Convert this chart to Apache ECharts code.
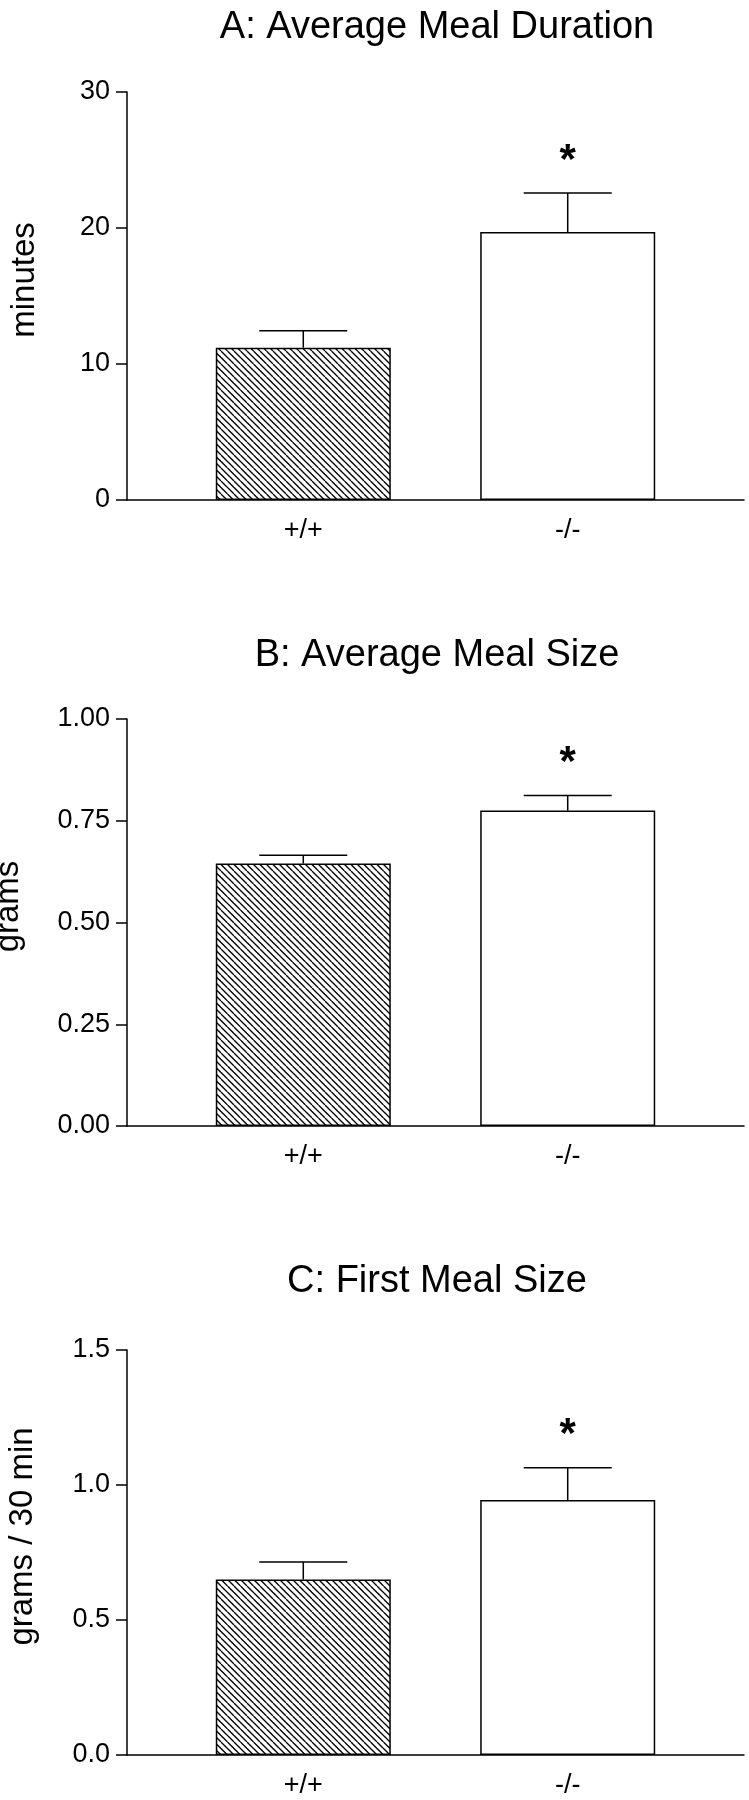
<!DOCTYPE html>
<html>
<head>
<meta charset="utf-8">
<script src="https://cdn.jsdelivr.net/npm/echarts@6/dist/echarts.min.js"></script>
<style>
  html, body { margin: 0; padding: 0; background: #fff; }
  #chart { width: 749px; height: 1800px; }
</style>
</head>
<body>
<div id="chart"></div>
<script>
// genotype groups and where they sit on the x axis
const groups = ['+/+', '-/-']
const slots = ['', '', '+/+', '', '', '-/-', '', '']
const starred = [false, true]

// A: average meal duration (minutes)
const durationMean = [11.2, 19.7]
const durationSem = [1.24, 2.87]
// B: average meal size (grams)
const sizeMean = [0.645, 0.775]
const sizeSem = [0.02, 0.037]
// C: first meal size (grams / 30 min)
const firstMean = [0.65, 0.944]
const firstSem = [0.065, 0.12]

const titles = ['A: Average Meal Duration', 'B: Average Meal Size', 'C: First Meal Size']
const yNames = ['minutes', 'grams', 'grams / 30 min']
const yMax = [30, 1, 1.5]
const yStep = [10, 0.25, 0.5]
const yDecimals = [0, 2, 1]

const font = '"Liberation Sans", Arial, sans-serif'

// hatch pattern for the wild-type bars
const hatch = document.createElement('canvas')
hatch.width = 13
hatch.height = 13
const hctx = hatch.getContext('2d')
hctx.fillStyle = '#fff'
hctx.fillRect(0, 0, 13, 13)
hctx.strokeStyle = '#000'
hctx.lineWidth = 1.3
for (const x0 of [-13, -6.5, 0, 6.5, 13]) {
  hctx.beginPath()
  hctx.moveTo(x0, 0)
  hctx.lineTo(x0 + 13, 13)
  hctx.stroke()
}

const panels = [
  { mean: durationMean, sem: durationSem, top: 92, height: 408, titleTop: 4, nameGap: 86 },
  { mean: sizeMean, sem: sizeSem, top: 719, height: 407, titleTop: 632, nameGap: 102 },
  { mean: firstMean, sem: firstSem, top: 1350, height: 405, titleTop: 1258, nameGap: 88 }
]

const barData = (mean) => slots.map((s) => {
  const g = groups.indexOf(s)
  if (g < 0) return '-'
  return { value: mean[g], itemStyle: { color: g === 0 ? { image: hatch, repeat: 'repeat' } : '#fff' } }
})

const errData = (mean, sem) => groups.map((g, i) => [slots.indexOf(g), mean[i], mean[i] + sem[i], starred[i] ? 1 : 0])

const renderError = (params, api) => {
  const p0 = api.coord([api.value(0), api.value(1)])
  const p1 = api.coord([api.value(0), api.value(2)])
  const half = 44
  const line = { stroke: '#000', lineWidth: 1.5 }
  const children = [
    { type: 'line', shape: { x1: p0[0], y1: p0[1], x2: p1[0], y2: p1[1] }, style: line },
    { type: 'line', shape: { x1: p1[0] - half, y1: p1[1], x2: p1[0] + half, y2: p1[1] }, style: line }
  ]
  if (api.value(3)) {
    children.push({
      type: 'text',
      style: {
        text: '*', x: p1[0], y: p1[1] - 32, align: 'center', verticalAlign: 'middle',
        font: 'bold 42px ' + font, fill: '#000'
      }
    })
  }
  return { type: 'group', children: children }
}

const option = {
  animation: false,
  backgroundColor: '#fff',
  title: panels.map((p, i) => ({
    text: titles[i],
    left: 432,
    textAlign: 'center',
    top: p.titleTop,
    textStyle: { fontFamily: font, fontSize: 38, fontWeight: 'normal', color: '#000' }
  })),
  grid: panels.map((p) => ({
    left: 127, width: 617, top: p.top, height: p.height,
    containLabel: false, outerBoundsMode: 'none'
  })),
  xAxis: panels.map((p, i) => ({
    type: 'category',
    gridIndex: i,
    data: slots,
    boundaryGap: false,
    axisLine: { lineStyle: { color: '#000', width: 1.5 } },
    axisTick: { show: false },
    splitLine: { show: false },
    axisLabel: { interval: 0, margin: 17, fontFamily: font, fontSize: 27, color: '#000' }
  })),
  yAxis: panels.map((p, i) => ({
    type: 'value',
    gridIndex: i,
    min: 0,
    max: yMax[i],
    interval: yStep[i],
    name: yNames[i],
    nameLocation: 'middle',
    nameRotate: 90,
    nameGap: p.nameGap,
    nameTextStyle: { fontFamily: font, fontSize: 33, color: '#000', padding: [0, 0, 0, 32] },
    axisLine: { show: true, lineStyle: { color: '#000', width: 1.5 } },
    axisTick: { show: true, length: 11, lineStyle: { color: '#000', width: 1.5 } },
    splitLine: { show: false },
    axisLabel: {
      margin: 17, fontFamily: font, fontSize: 27, color: '#000',
      formatter: (v) => v.toFixed(yDecimals[i])
    }
  })),
  series: panels.flatMap((p, i) => [
    {
      type: 'bar',
      xAxisIndex: i,
      yAxisIndex: i,
      barWidth: 175,
      data: barData(p.mean),
      itemStyle: { borderColor: '#000', borderWidth: 1.5 }
    },
    {
      type: 'custom',
      xAxisIndex: i,
      yAxisIndex: i,
      data: errData(p.mean, p.sem),
      renderItem: renderError,
      z: 3
    }
  ])
}

const chart = echarts.init(document.getElementById('chart'))
chart.setOption(option)
</script>
</body>
</html>
